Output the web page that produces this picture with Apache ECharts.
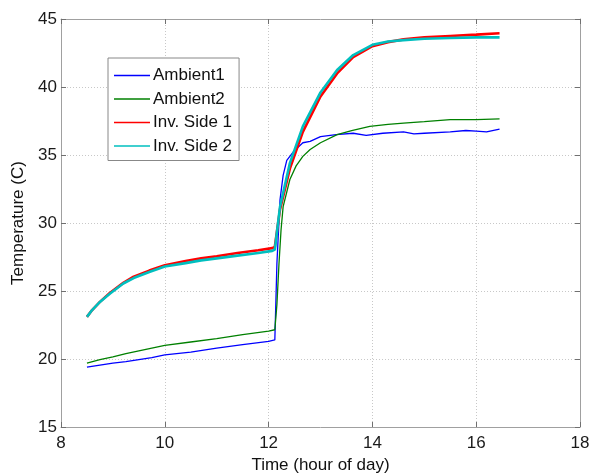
<!DOCTYPE html>
<html>
<head>
<meta charset="utf-8">
<script src="https://cdn.jsdelivr.net/npm/echarts@6/dist/echarts.min.js"></script>
<style>
  html, body { margin: 0; padding: 0; background: #fff; }
  #main { width: 594px; height: 473px; }
</style>
</head>
<body>
<div id="main"></div>
<script>
// tick labels
const xTicks = [8, 10, 12, 14, 16, 18]
const yTicks = [15, 20, 25, 30, 35, 40, 45]

const seriesNames = ['Ambient1', 'Ambient2', 'Inv. Side 1', 'Inv. Side 2']

// [hour of day, temperature]
const ambient1 = [
  [8.5, 19.4], [8.75, 19.55], [9, 19.7], [9.25, 19.8], [9.5, 19.95], [9.75, 20.1], [10, 20.3],
  [10.5, 20.5], [11, 20.8], [11.5, 21.05], [12, 21.3], [12.12, 21.4], [12.16, 27.0],
  [12.22, 31.7], [12.28, 33.5], [12.35, 34.6], [12.48, 35.25], [12.66, 35.9], [12.8, 36.0],
  [13, 36.35], [13.3, 36.5], [13.63, 36.6], [13.88, 36.45], [14.2, 36.6], [14.6, 36.7],
  [14.8, 36.55], [15, 36.6], [15.5, 36.7], [15.8, 36.8], [16, 36.75], [16.2, 36.7], [16.45, 36.9]
]
const ambient2 = [
  [8.5, 19.7], [8.75, 19.95], [9, 20.15], [9.25, 20.4], [9.5, 20.6], [9.75, 20.8], [10, 21.0],
  [10.5, 21.25], [11, 21.5], [11.5, 21.8], [12, 22.05], [12.12, 22.15], [12.16, 24.0],
  [12.2, 27.0], [12.24, 29.5], [12.28, 31.2], [12.41, 33.2], [12.53, 34.2], [12.66, 34.9],
  [12.8, 35.4], [13, 35.9], [13.32, 36.5], [13.6, 36.8], [13.95, 37.1], [14.3, 37.25],
  [14.6, 37.35], [15, 37.45], [15.5, 37.6], [16, 37.6], [16.45, 37.65]
]
const invSide1 = [
  [8.5, 23.1], [8.6, 23.6], [8.75, 24.2], [8.94, 24.85], [9.2, 25.6], [9.4, 26.05],
  [9.7, 26.5], [10, 26.9], [10.4, 27.2], [10.7, 27.4], [11, 27.55], [11.4, 27.8],
  [11.8, 28.0], [12.07, 28.15], [12.12, 28.25], [12.22, 31.0], [12.41, 34.0], [12.66, 36.7],
  [13, 39.3], [13.32, 41.0], [13.63, 42.2], [14, 43.0], [14.3, 43.3], [14.6, 43.5],
  [15, 43.65], [15.5, 43.75], [16, 43.85], [16.45, 43.95]
]
const invSide2 = [
  [8.5, 23.1], [8.6, 23.6], [8.75, 24.2], [8.94, 24.8], [9.2, 25.55], [9.4, 25.95],
  [9.7, 26.4], [10, 26.8], [10.4, 27.05], [10.7, 27.25], [11, 27.4], [11.4, 27.6],
  [11.8, 27.8], [12.07, 27.95], [12.12, 28.05], [12.22, 31.2], [12.41, 34.4], [12.66, 37.1],
  [13, 39.6], [13.32, 41.25], [13.63, 42.35], [14, 43.1], [14.3, 43.35], [14.6, 43.45],
  [15, 43.55], [15.5, 43.6], [16, 43.65], [16.45, 43.65]
]

const colors = ['#0000ff', '#008000', '#ff0000', '#00bfbf']
const font = 'Arial, "Liberation Sans", Helvetica, sans-serif'

const myChart = echarts.init(document.getElementById('main'))

// MATLAB style axis: box, inner ticks, dotted grid
const axisCommon = {
  type: 'value',
  axisLine: { show: true, lineStyle: { color: '#a0a0a0', width: 1 } },
  axisTick: { show: true, inside: true, length: 5, lineStyle: { color: '#707070' } },
  splitLine: { show: true, lineStyle: { color: '#c8c8c8', type: [1, 2], width: 1 } },
  axisLabel: { color: '#1a1a1a', fontSize: 17, fontFamily: font }
}

const option = {
  backgroundColor: '#fff',
  animation: false,
  color: colors,
  // outerBoundsMode none -> grid keeps exactly these margins
  grid: { left: 61, right: 14, top: 19, bottom: 46, containLabel: false, outerBoundsMode: 'none' },
  legend: {
    // legend keys: thin lines in the series colours
    data: seriesNames.map((name, i) => ({
      name: name,
      itemStyle: { color: colors[i], borderWidth: 0 }
    })),
    orient: 'vertical',
    left: 108,
    top: 58,
    padding: [9, 7, 6, 6],
    itemGap: 6.5,
    itemWidth: 36,
    itemHeight: 1.4,
    icon: 'rect',
    backgroundColor: '#fff',
    borderColor: '#888',
    borderWidth: 1,
    textStyle: { fontSize: 17, color: '#111', fontFamily: font, padding: [0, 0, 0, -2] }
  },
  xAxis: [
    {
      ...axisCommon,
      min: xTicks[0],
      max: xTicks[xTicks.length - 1],
      interval: 2,
      name: 'Time (hour of day)',
      nameLocation: 'middle',
      nameGap: 28,
      nameTextStyle: { fontSize: 17, color: '#111', fontFamily: font },
      axisLabel: { ...axisCommon.axisLabel, margin: 8 }
    },
    {
      ...axisCommon,
      position: 'top',
      min: xTicks[0],
      max: xTicks[xTicks.length - 1],
      interval: 2,
      splitLine: { show: false },
      axisLabel: { show: false }
    }
  ],
  yAxis: [
    {
      ...axisCommon,
      min: yTicks[0],
      max: yTicks[yTicks.length - 1],
      interval: 5,
      name: 'Temperature (C)',
      nameLocation: 'middle',
      nameGap: 28,
      nameTextStyle: { fontSize: 17, color: '#111', fontFamily: font },
      axisLabel: { ...axisCommon.axisLabel, margin: 4 }
    },
    {
      ...axisCommon,
      position: 'right',
      min: yTicks[0],
      max: yTicks[yTicks.length - 1],
      interval: 5,
      splitLine: { show: false },
      axisLabel: { show: false }
    }
  ],
  series: [
    { name: seriesNames[0], type: 'line', data: ambient1, symbol: 'none', lineStyle: { width: 1.3 } },
    { name: seriesNames[1], type: 'line', data: ambient2, symbol: 'none', lineStyle: { width: 1.3 } },
    { name: seriesNames[2], type: 'line', data: invSide1, symbol: 'none', lineStyle: { width: 2.6 } },
    { name: seriesNames[3], type: 'line', data: invSide2, symbol: 'none', lineStyle: { width: 2.6 } }
  ]
}
myChart.setOption(option)
</script>
</body>
</html>
